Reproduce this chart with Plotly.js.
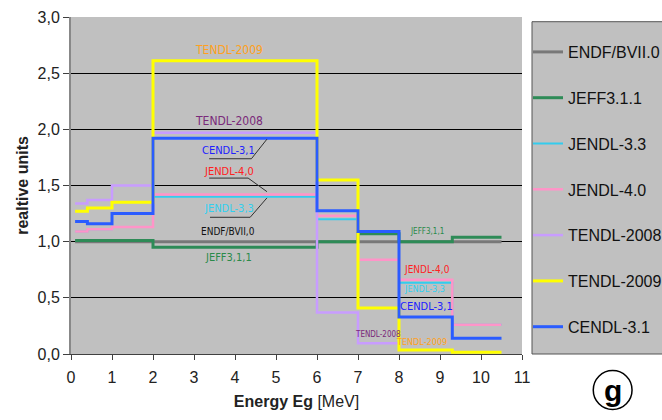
<!DOCTYPE html>
<html>
<head>
<meta charset="utf-8">
<script src="https://cdn.plot.ly/plotly-3.0.1.min.js"></script>
<style>html,body{margin:0;padding:0;background:#fff;}#chart{width:662px;height:420px;}</style>
</head>
<body>
<div id="chart"></div>
<script>
// Energy group boundaries [MeV]
const energy = [0.1, 0.4, 1, 2, 6, 7, 8, 9.3, 10.5];

// Group values (relative units), one per energy group
const seriesNames = ["ENDF/BVII.0", "JEFF3.1.1", "JENDL-3.3", "JENDL-4.0", "TENDL-2008", "TENDL-2009", "CENDL-3.1"];
const endfb7 = [1.00, 1.00, 1.00, 1.00, 1.00, 1.00, 1.00, 1.00];
const jeff311 = [1.01, 1.01, 1.01, 0.95, 1.00, 1.07, 1.00, 1.04];
const jendl33 = [1.09, 1.11, 1.13, 1.40, 1.20, 1.09, 0.635, 0.26];
const jendl40 = [1.09, 1.11, 1.13, 1.42, 1.23, 0.84, 0.66, 0.26];
const tendl2008 = [1.34, 1.37, 1.50, 1.97, 0.37, 0.095];
const tendl2009 = [1.27, 1.30, 1.35, 2.61, 1.55, 0.41, 0.035, 0.015];
const cendl31 = [1.18, 1.16, 1.25, 1.92, 1.276, 1.09, 0.33, 0.14];

const xTicks = [0, 1, 2, 3, 4, 5, 6, 7, 8, 9, 10, 11];
const yTicks = [0, 0.5, 1, 1.5, 2, 2.5, 3];

const allValues = [endfb7, jeff311, jendl33, jendl40, tendl2008, tendl2009, cendl31];
const colors = ["#787878", "#2e8b57", "#33ccee", "#ff94c8", "#c89cff", "#ffff00", "#2a5cff"];
const widths = [3, 3, 2, 2.5, 2.5, 3, 3];

const FONT = "Liberation Sans, Arial, sans-serif";
const NARROW = "Liberation Sans Narrow, DejaVu Sans Condensed, Arial Narrow, sans-serif";

const traces = allValues.map((vals, i) => ({
  type: "scatter",
  mode: "lines",
  name: seriesNames[i],
  legendgroup: "g" + i,
  x: energy.slice(0, vals.length + 1),
  y: vals.concat([vals[vals.length - 1]]),
  line: {shape: "hv", color: colors[i], width: widths[i]},
  hoverinfo: "skip"
}));

function lbl(text, x, y, color, size) {
  return {text: text, x: x, y: y, xref: "x", yref: "y", showarrow: false,
    font: {family: NARROW, size: size, color: color}, xanchor: "center", yanchor: "middle"};
}

const annotations = [
  lbl("TENDL-2009", 3.85, 2.706, "#ffa020", 12),
  lbl("TENDL-2008", 3.85, 2.074, "#7a2a7a", 12),
  lbl("CENDL-3,1", 3.85, 1.81, "#2020ff", 11),
  lbl("JENDL-4,0", 3.85, 1.629, "#ff2020", 11),
  lbl("JENDL-3,3", 3.85, 1.291, "#30d0f0", 11),
  lbl("ENDF/BVII,0", 3.83, 1.095, "#111111", 10),
  lbl("JEFF3,1,1", 3.85, 0.855, "#2a8a4a", 11),
  lbl("JEFF3,1,1", 8.68, 1.095, "#2a8a4a", 8),
  lbl("JENDL-4,0", 8.68, 0.748, "#ff2020", 10),
  lbl("JENDL-3,3", 8.63, 0.579, "#30d0f0", 9),
  lbl("CENDL-3,1", 8.68, 0.421, "#2020ff", 11),
  lbl("TENDL-2008", 7.49, 0.178, "#7a2a7a", 8),
  lbl("TENDL-2009", 8.55, 0.11, "#ffa020", 9),
  {text: "<b>g</b>", x: 1.201, y: -0.107, xref: "paper", yref: "paper", showarrow: false,
   font: {family: FONT, size: 30, color: "#000"}, xanchor: "center", yanchor: "middle"}
];

const shapes = [
  // legend frame
  {type: "rect", xref: "paper", yref: "paper", x0: 1.0222, x1: 1.32, y0: 0, y1: 0.986,
   fillcolor: "#c0c0c0", line: {color: "#555555", width: 1}, layer: "below"},
  // callout lines
  {type: "path", xref: "x", yref: "y", path: "M3.37,1.738 L4.40,1.738 L4.78,1.913", line: {color: "#303030", width: 1}},
  {type: "path", xref: "x", yref: "y", path: "M3.37,1.566 L4.32,1.566 L4.78,1.445", line: {color: "#303030", width: 1}},
  {type: "path", xref: "x", yref: "y", path: "M3.39,1.217 L4.37,1.217 L4.78,1.39", line: {color: "#303030", width: 1}},
  // circle around "g"
  {type: "circle", xref: "paper", yref: "paper", x0: 1.158, x1: 1.244, y0: -0.1647, y1: -0.049,
   line: {color: "#000", width: 1.5}}
];

const layout = {
  width: 662, height: 420,
  margin: {l: 71, r: 140, t: 17, b: 66, autoexpand: false},
  paper_bgcolor: "#ffffff",
  plot_bgcolor: "#c0c0c0",
  font: {family: FONT, size: 16, color: "#222"},
  showlegend: true,
  legend: {xref: "container", yref: "container", x: 528 / 662, y: 1 - 35 / 420, xanchor: "left", yanchor: "top",
    maxheight: 400, bgcolor: "rgba(0,0,0,0)", borderwidth: 0, font: {family: FONT, size: 16, color: "#111"}, tracegroupgap: 22},
  xaxis: {range: [0, 11], tickvals: xTicks, ticktext: xTicks.map(String), showgrid: false, zeroline: false,
    showline: true, linecolor: "#404040", linewidth: 1, ticks: "outside", ticklen: 5, tickcolor: "#404040",
    ticklabelstandoff: 4, fixedrange: true,
    title: {text: "<b>Energy Eg</b> [MeV]", font: {family: FONT, size: 16, color: "#222"}, standoff: 10}},
  yaxis: {range: [0, 3], tickvals: yTicks, tickformat: ".1f", showgrid: true, gridcolor: "#000000", gridwidth: 1,
    zeroline: false, showline: true, linecolor: "#888888", linewidth: 2, ticks: "outside", ticklen: 6,
    tickcolor: "#404040", fixedrange: true,
    title: {text: "<b>realtive units</b>", font: {family: FONT, size: 16, color: "#222"}, standoff: 5}},
  separators: ",.",
  annotations: annotations,
  shapes: shapes
};

Plotly.newPlot("chart", traces, layout, {displayModeBar: false, staticPlot: true});
</script>
</body>
</html>
